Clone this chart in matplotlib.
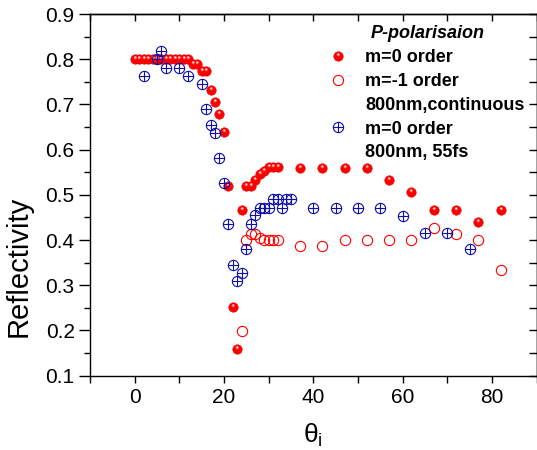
import matplotlib
matplotlib.use("Agg")
import matplotlib.pyplot as plt
from matplotlib.path import Path
from matplotlib.lines import Line2D
from matplotlib.legend_handler import HandlerTuple
from matplotlib.ticker import MultipleLocator, FixedLocator, FormatStrFormatter

plt.rcParams['font.family'] = ['Liberation Sans', 'DejaVu Sans']
plt.rcParams['mathtext.default'] = 'regular'

# ---- data ----
x_m0_cont = [0, 1, 2, 3, 4, 5, 6, 7, 8, 9, 10, 11, 12, 13, 14, 15, 16, 17, 18, 19, 20,
             21, 22, 23, 24, 25, 26, 27, 28, 29, 30, 31, 32, 37, 42, 47, 52, 57, 62,
             67, 72, 77, 82]
y_m0_cont = [0.80, 0.80, 0.80, 0.80, 0.80, 0.80, 0.80, 0.80, 0.80, 0.80, 0.80, 0.80, 0.80,
             0.79, 0.79, 0.773, 0.773, 0.732, 0.706, 0.679, 0.640,
             0.519, 0.253, 0.159, 0.466, 0.52, 0.52, 0.533, 0.546, 0.553, 0.561, 0.561, 0.561,
             0.56, 0.56, 0.56, 0.56, 0.533, 0.507, 0.467, 0.467, 0.439, 0.467]

x_m1_cont = [24, 25, 26, 27, 28, 29, 30, 31, 32, 37, 42, 47, 52, 57, 62, 67, 72, 77, 82]
y_m1_cont = [0.199, 0.40, 0.413, 0.414, 0.405, 0.40, 0.40, 0.40, 0.40, 0.387, 0.386, 0.40,
             0.40, 0.40, 0.40, 0.427, 0.413, 0.40, 0.333]

x_m0_fs = [2, 5, 6, 7, 10, 12, 15, 16, 17, 18, 19, 20, 21, 22, 23, 24, 25, 26, 27, 28, 29,
           30, 31, 32, 33, 34, 35, 40, 45, 50, 55, 60, 65, 70, 75]
y_m0_fs = [0.762, 0.80, 0.818, 0.781, 0.781, 0.762, 0.745, 0.690, 0.654, 0.636, 0.582, 0.527,
           0.436, 0.344, 0.309, 0.327, 0.381, 0.436, 0.456, 0.472, 0.472, 0.472, 0.490, 0.490,
           0.472, 0.490, 0.490, 0.472, 0.472, 0.472, 0.472, 0.453, 0.416, 0.416, 0.381]

legend_title = "P-polarisaion"
legend_labels = ["m=0 order", "m=-1 order", "800nm,continuous", "m=0 order", "800nm, 55fs"]

RED = '#ff0000'
BLUE = '#1010a8'

# ---- markers ----
circ = Path.unit_circle()
cross = Path([[-1, 0], [1, 0], [0, -1], [0, 1]],
             [Path.MOVETO, Path.LINETO, Path.MOVETO, Path.LINETO])
oplus = Path.make_compound_path(circ, cross)

def offset_circle(cx, cy, r):
    c = Path.unit_circle()
    return Path(c.vertices * r + [cx, cy], c.codes)

hl1_c = (-0.05, 0.38, 0.34)
hl2_c = (-0.05, 0.45, 0.18)
hl1 = offset_circle(*hl1_c)
hl2 = offset_circle(*hl2_c)
m1 = max(abs(hl1_c[0]) + hl1_c[2], abs(hl1_c[1]) + hl1_c[2])
m2 = max(abs(hl2_c[0]) + hl2_c[2], abs(hl2_c[1]) + hl2_c[2])

MS = 6.8

fig = plt.figure(figsize=(5.37, 4.50), dpi=100)
ax = fig.add_axes([90 / 537, 1 - 375.7 / 450, (536.5 - 90) / 537, (375.7 - 14) / 450])

# m=0 continuous (filled spheres)
ax.plot(x_m0_cont, y_m0_cont, linestyle='none', marker='o', ms=MS,
        mfc=RED, mec='#e80000', mew=0.4, zorder=3)
ax.plot(x_m0_cont, y_m0_cont, linestyle='none', marker=hl1, ms=MS * m1,
        mfc='#ff6a6a', mec='none', zorder=3.1)
ax.plot(x_m0_cont, y_m0_cont, linestyle='none', marker=hl2, ms=MS * m2,
        mfc='#ffdada', mec='none', zorder=3.2)

# m=-1 continuous (open circles)
ax.plot(x_m1_cont, y_m1_cont, linestyle='none', marker='o', ms=7.4,
        mfc='none', mec=RED, mew=0.8, zorder=3)

# m=0 55fs (circle-plus)
ax.plot(x_m0_fs, y_m0_fs, linestyle='none', marker=oplus, ms=7.4,
        mfc='none', mec=BLUE, mew=0.8, zorder=4)

ax.set_xlim(-10, 90)
ax.set_ylim(0.1, 0.9)

ax.xaxis.set_major_locator(FixedLocator([0, 20, 40, 60, 80]))
ax.xaxis.set_minor_locator(FixedLocator([-10, 10, 30, 50, 70, 90]))
ax.yaxis.set_major_locator(MultipleLocator(0.1))
ax.yaxis.set_minor_locator(MultipleLocator(0.05))
ax.yaxis.set_major_formatter(FormatStrFormatter('%.1f'))

ax.tick_params(axis='x', which='both', direction='out', length=5, width=1,
               labelsize=15, pad=4, top=False)
ax.tick_params(axis='y', which='major', direction='out', length=8, width=1,
               labelsize=15, pad=3, right=False)
ax.tick_params(axis='y', which='minor', direction='out', length=4, width=1, right=False)

for s in ax.spines.values():
    s.set_linewidth(1.0)

secx = ax.secondary_xaxis('top')
secx.set_xticks([-10, 0, 10, 20, 30, 40, 50, 60, 70, 80, 90])
secx.tick_params(direction='in', length=5, width=1, labeltop=False)
secx.spines['top'].set_linewidth(1.0)

secy = ax.secondary_yaxis('right')
secy.yaxis.set_major_locator(MultipleLocator(0.05))
secy.tick_params(direction='in', length=6, width=1, labelright=False)
secy.spines['right'].set_linewidth(1.0)

ax.set_ylabel('Reflectivity', fontsize=21)
ax.yaxis.set_label_coords(-0.128, 0.303)
ax.set_xlabel('θ$_\\mathregular{i}$', fontsize=19)
ax.xaxis.set_label_coords(0.4995, -0.128)

# ---- legend ----
fig.text(428 / 537, 1 - 33 / 450, legend_title, ha='center', va='center',
         fontsize=13, fontweight='bold', fontstyle='italic')

h_red = (Line2D([], [], linestyle='none', marker='o', ms=MS, mfc=RED, mec='#e80000', mew=0.4),
         Line2D([], [], linestyle='none', marker=hl1, ms=MS * m1, mfc='#ff6a6a', mec='none'),
         Line2D([], [], linestyle='none', marker=hl2, ms=MS * m2, mfc='#ffdada', mec='none'))
h_open = Line2D([], [], linestyle='none', marker='o', ms=7.4, mfc='none', mec=RED, mew=0.8)
h_blank = Line2D([], [], linestyle='none', marker=None)
h_blue = Line2D([], [], linestyle='none', marker=oplus, ms=7.4, mfc='none', mec=BLUE, mew=0.8)

leg = ax.legend([h_red, h_open, h_blank, h_blue, h_blank], legend_labels,
                handler_map={tuple: HandlerTuple(ndivide=1)},
                loc='upper left', bbox_to_anchor=(329 / 537, 1 - 49 / 450),
                bbox_transform=fig.transFigure, frameon=False, borderpad=0,
                handlelength=1.0, handletextpad=1.0, labelspacing=0.38,
                prop={'weight': 'bold', 'size': 13},
                numpoints=1, borderaxespad=0)

fig.savefig('out.png', dpi=100)
